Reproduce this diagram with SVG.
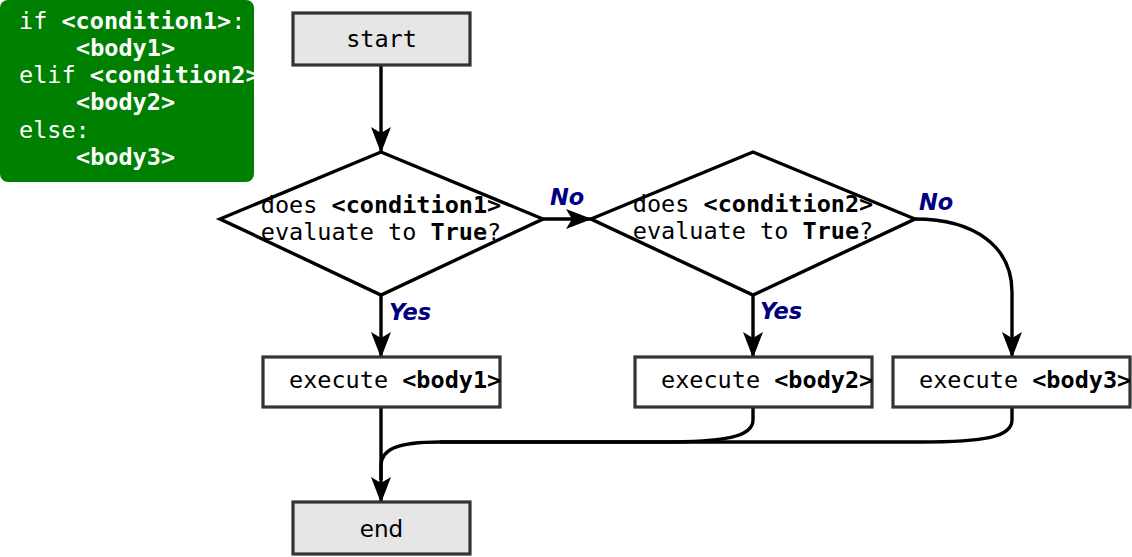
<svg xmlns="http://www.w3.org/2000/svg" width="1132" height="557" viewBox="0 0 1132 557">
<style>
.mono{font-family:"DejaVu Sans Mono","Liberation Mono",monospace;font-size:23.5px;fill:#000}
.code{font-family:"DejaVu Sans Mono","Liberation Mono",monospace;font-size:23.5px;fill:#fff}
.b{font-weight:bold}
.lbl{font-family:"DejaVu Sans","Liberation Sans",sans-serif;font-size:22.5px;font-weight:bold;font-style:italic;fill:#000080}
.term{fill:#e6e6e6;stroke:#333;stroke-width:3.2}
.box{fill:#fff;stroke:#333;stroke-width:3.2}
.dia{fill:#fff;stroke:#000;stroke-width:3.4;stroke-linejoin:miter}
.conn{fill:none;stroke:#000;stroke-width:3.4}
</style>
<defs>
<marker id="arr" viewBox="0 0 26 20" refX="25" refY="10" markerWidth="26" markerHeight="20" markerUnits="userSpaceOnUse" orient="auto">
<path d="M0,0 L26,10 L0,20 L6,10 Z" fill="#000"/>
</marker>
</defs>
<g id="code">
<rect x="0" y="0" width="254" height="182" rx="8" fill="#008000"/>
<text class="code" x="19" y="29">if <tspan class="b">&lt;condition1&gt;</tspan>:</text>
<text class="code b" x="76" y="56">&lt;body1&gt;</text>
<text class="code" x="19" y="83">elif <tspan class="b">&lt;condition2&gt;</tspan></text>
<text class="code b" x="76" y="110">&lt;body2&gt;</text>
<text class="code" x="19" y="138">else:</text>
<text class="code b" x="76" y="165">&lt;body3&gt;</text>
</g>
<g id="connectors">
<path class="conn" d="M381,65 L381,152" marker-end="url(#arr)"/>
<path class="conn" d="M543,219 L591,219" marker-end="url(#arr)"/>
<path class="conn" d="M381,295 L381,357" marker-end="url(#arr)"/>
<path class="conn" d="M753,295 L753,357" marker-end="url(#arr)"/>
<path class="conn" d="M915,219 C975,219 1012,247 1012,292 L1012,357" marker-end="url(#arr)"/>
<path class="conn" d="M753,407 L753,420 C753,437 725,442 660,442 L440,442 C395,442 381,450 381,466 L381,480"/>
<path class="conn" d="M1012,407 L1012,420 C1012,437 985,442 920,442 L440,442"/>
<path class="conn" d="M381,407 L381,502" marker-end="url(#arr)"/>
<text class="lbl" x="550" y="205">No</text>
<text class="lbl" x="919" y="210">No</text>
<text class="lbl" x="389" y="320">Yes</text>
<text class="lbl" x="760" y="319">Yes</text>
</g>
<g id="start">
<rect class="term" x="293" y="13" width="177" height="52"/>
<text class="mono" x="381.5" y="47" text-anchor="middle">start</text>
</g>
<g id="cond1">
<polygon class="dia" points="220,219 381,152 543,219 381,295"/>
<text class="mono" x="381" y="213" text-anchor="middle">does <tspan class="b">&lt;condition1&gt;</tspan></text>
<text class="mono" x="381" y="240" text-anchor="middle">evaluate to <tspan class="b">True</tspan>?</text>
</g>
<g id="cond2">
<polygon class="dia" points="591,219 753,152 915,219 753,295"/>
<text class="mono" x="753" y="212" text-anchor="middle">does <tspan class="b">&lt;condition2&gt;</tspan></text>
<text class="mono" x="753" y="239" text-anchor="middle">evaluate to <tspan class="b">True</tspan>?</text>
</g>
<g id="body1">
<rect class="box" x="263" y="357" width="237" height="50"/>
<text class="mono" x="289" y="388">execute <tspan class="b">&lt;body1&gt;</tspan></text>
</g>
<g id="body2">
<rect class="box" x="635" y="357" width="237" height="50"/>
<text class="mono" x="661" y="388">execute <tspan class="b">&lt;body2&gt;</tspan></text>
</g>
<g id="body3">
<rect class="box" x="893" y="357" width="237" height="50"/>
<text class="mono" x="919" y="388">execute <tspan class="b">&lt;body3&gt;</tspan></text>
</g>
<g id="end">
<rect class="term" x="293" y="502" width="177" height="52"/>
<text x="381.5" y="537" text-anchor="middle" style="font-family:'DejaVu Sans','Liberation Sans',sans-serif;font-size:23px;fill:#000">end</text>
</g>
</svg>
